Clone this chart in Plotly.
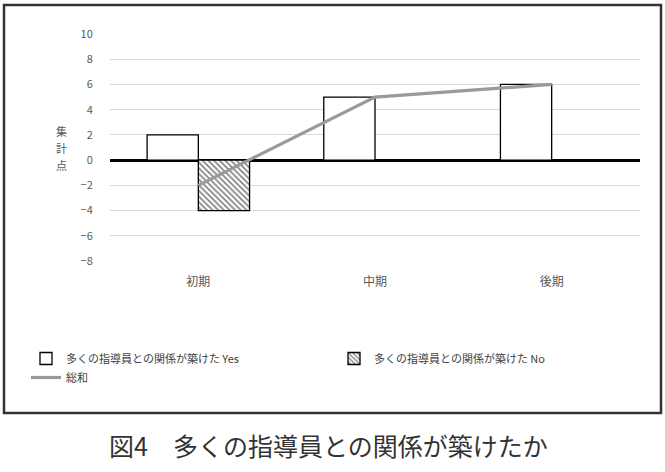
import plotly.graph_objects as go

categories = ["初期", "中期", "後期"]
yes_values = [2, 5, 6]
no_values = [-4, 0, 0]
total_values = [-2, 5, 6]
yes_name = "多くの指導員との関係が築けた Yes"
no_name = "多くの指導員との関係が築けた No"
total_name = "総和"
y_ticks = [-8, -6, -4, -2, 0, 2, 4, 6, 8, 10]
y_title_chars = ["集", "計", "点"]

FONT = "Noto Sans CJK JP"
W, H = 665, 472
L, R, T, B = 110, 25, 34, 211
pw, ph = W - L - R, H - T - B

def px(x):
    return (x - L) / pw

def py(y):
    return (H - B - y) / ph

fig = go.Figure()
fig.add_trace(go.Bar(
    x=categories, y=yes_values, name=yes_name,
    marker=dict(color="white", line=dict(color="black", width=1.3)),
))
fig.add_trace(go.Bar(
    x=categories, y=no_values, name=no_name,
    marker=dict(color="white", line=dict(color="black", width=1.3),
                pattern=dict(shape="\\", fgcolor="black", bgcolor="white", size=4, solidity=0.4)),
))
fig.add_trace(go.Scatter(
    x=categories, y=total_values, name=total_name, mode="lines",
    line=dict(color="#9a9a9a", width=3.2),
))

annotations = []
for i, ch in enumerate(y_title_chars):
    annotations.append(dict(
        text=ch, xref="paper", yref="paper", x=px(61), y=py(131 + 17 * i),
        showarrow=False, font=dict(family=FONT, size=11, color="#595959"),
        xanchor="center", yanchor="middle", height=14,
    ))
annotations.append(dict(
    text="図4　多くの指導員との関係が築けたか", xref="paper", yref="paper",
    x=px(328), y=py(445), showarrow=False,
    font=dict(family=FONT, size=25, color="#333333"),
    xanchor="center", yanchor="middle",
))

fig.update_layout(
    width=W, height=H,
    margin=dict(l=L, r=R, t=T, b=B),
    paper_bgcolor="white", plot_bgcolor="white",
    barmode="group", bargap=0.42, bargroupgap=0,
    font=dict(family=FONT, size=11, color="#595959"),
    showlegend=True,
    legend=dict(
        orientation="h", x=px(26), y=py(344), xanchor="left", yanchor="top",
        entrywidth=263, entrywidthmode="pixels",
        font=dict(family=FONT, size=11, color="#404040"),
        itemwidth=30, tracegroupgap=0, traceorder="normal",
    ),
    xaxis=dict(
        showgrid=False, showline=False, ticks="outside", ticklen=10, tickcolor="white",
        tickfont=dict(size=12, color="#595959"),
    ),
    yaxis=dict(
        range=[-8, 10], tickvals=y_ticks, showgrid=True, gridcolor="#d9d9d9", gridwidth=1,
        zeroline=True, zerolinecolor="black", zerolinewidth=2.5,
        showline=False, ticks="outside", ticklen=14, tickcolor="white",
        tickfont=dict(size=11, color="#595959"),
    ),
    shapes=[dict(
        type="rect", xref="paper", yref="paper",
        x0=px(4), x1=px(661), y0=py(413), y1=py(5),
        line=dict(color="#333333", width=2.5), fillcolor="rgba(0,0,0,0)", layer="below",
    )],
    annotations=annotations,
)

fig.write_html("out.html")
